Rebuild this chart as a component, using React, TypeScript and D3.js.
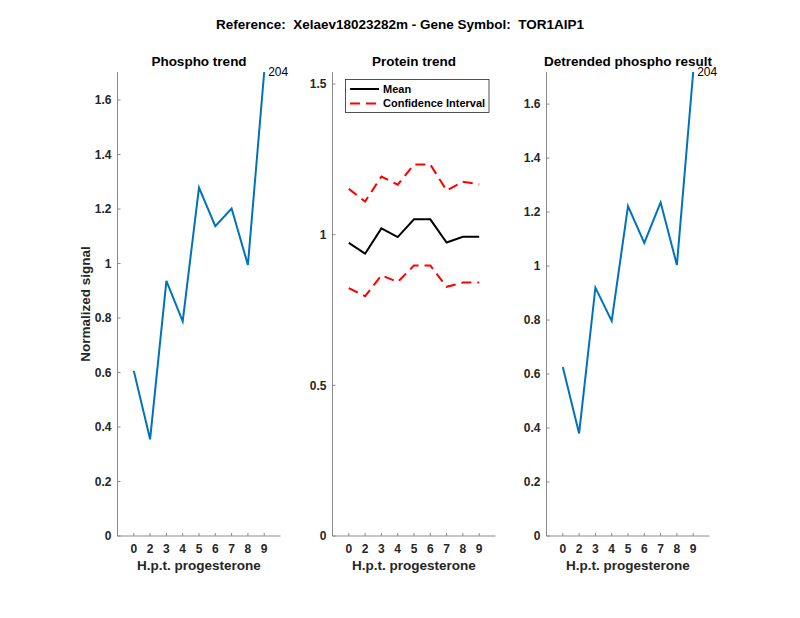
import React from "react";
import * as d3 from "d3";

const xLabels = ["0", "2", "3", "4", "5", "6", "7", "8", "9"];
const phospho = [0.606, 0.355, 0.936, 0.788, 1.279, 1.137, 1.202, 0.995, 1.703];
const proteinMean = [0.973, 0.937, 1.021, 0.992, 1.051, 1.051, 0.974, 0.993, 0.993];
const proteinUpper = [1.152, 1.11, 1.193, 1.166, 1.233, 1.233, 1.147, 1.176, 1.167];
const proteinLower = [0.823, 0.796, 0.865, 0.843, 0.898, 0.898, 0.827, 0.841, 0.841];
const detrended = [0.626, 0.38, 0.92, 0.797, 1.222, 1.086, 1.236, 1.004, 1.719];
const phosphoTicks = [0, 0.2, 0.4, 0.6, 0.8, 1, 1.2, 1.4, 1.6];
const proteinTicks = [0, 0.5, 1, 1.5];
const peptideLabel = "204";

const FONT = "'Liberation Sans', Arial, Helvetica, sans-serif";
const AXIS = "#8a8a8a";
const TXT = "#262626";
const BLUE = "#0072BD";
const DASH = "10,6";

type Series = { values: number[]; color: string; dash?: string };

function Panel(props: {
  left: number;
  title: string;
  yMax: number;
  yTicks: number[];
  series: Series[];
  endLabel?: string;
  yLabel?: string;
  legend?: boolean;
}) {
  const top = 72;
  const bottom = 536;
  const width = 163;
  const x = d3.scaleLinear().domain([0, 10]).range([props.left, props.left + width]);
  const y = d3.scaleLinear().domain([0, props.yMax]).range([bottom, top]);
  const line = d3
    .line<number>()
    .x((_, i) => x(i + 1))
    .y((v) => y(v));
  const first = props.series[0].values;
  const last = first[first.length - 1];
  return (
    <g>
      <text x={props.left + width / 2} y={65.5} textAnchor="middle" fontFamily={FONT} fontWeight="bold" fontSize={13.5} fill="#000">
        {props.title}
      </text>
      {props.series.map((s, k) => (
        <path key={k} d={line(s.values) || ""} fill="none" stroke={s.color} strokeWidth={2} strokeDasharray={s.dash} />
      ))}
      <line x1={props.left} x2={props.left} y1={top} y2={bottom} stroke={AXIS} strokeWidth={1} />
      <line x1={props.left} x2={props.left + width} y1={bottom} y2={bottom} stroke={AXIS} strokeWidth={1} />
      {props.yTicks.map((t) => (
        <g key={t}>
          <line x1={props.left} x2={props.left + 3} y1={y(t)} y2={y(t)} stroke={AXIS} />
          <text x={props.left - 6} y={y(t)} dy="0.35em" textAnchor="end" fontFamily={FONT} fontWeight="bold" fontSize={12} fill={TXT}>
            {String(t)}
          </text>
        </g>
      ))}
      {xLabels.map((l, i) => (
        <g key={l}>
          <line x1={x(i + 1)} x2={x(i + 1)} y1={bottom} y2={bottom - 3} stroke={AXIS} />
          <text x={x(i + 1)} y={552.5} textAnchor="middle" fontFamily={FONT} fontWeight="bold" fontSize={12} fill={TXT}>
            {l}
          </text>
        </g>
      ))}
      <text x={props.left + width / 2} y={570} textAnchor="middle" fontFamily={FONT} fontWeight="bold" fontSize={13.5} fill={TXT}>
        H.p.t. progesterone
      </text>
      {props.yLabel && (
        <text transform={`translate(${props.left - 28},${(top + bottom) / 2}) rotate(-90)`} textAnchor="middle" fontFamily={FONT} fontWeight="bold" fontSize={13.5} fill={TXT}>
          {props.yLabel}
        </text>
      )}
      {props.endLabel && (
        <text x={x(first.length) + 4} y={y(last)} dy="0.35em" fontFamily={FONT} fontSize={12} fill="#000">
          {props.endLabel}
        </text>
      )}
      {props.legend && (
        <g>
          <rect x={345.5} y={79.5} width={143.5} height={33} fill="#fff" stroke="#262626" strokeWidth={0.8} />
          <line x1={350} x2={379} y1={89} y2={89} stroke="#000" strokeWidth={2} />
          <text x={383} y={89} dy="0.35em" fontFamily={FONT} fontWeight="bold" fontSize={11} fill="#000">Mean</text>
          <line x1={350} x2={379} y1={103.5} y2={103.5} stroke="#ff0000" strokeWidth={2} strokeDasharray={DASH} />
          <text x={383} y={103.5} dy="0.35em" fontFamily={FONT} fontWeight="bold" fontSize={11} fill="#000">Confidence Interval</text>
        </g>
      )}
    </g>
  );
}

export default function App() {
  return (
    <svg width={800} height={618} style={{ display: "block", position: "absolute", left: 0, top: 0, background: "#fff" }}>
      <rect width={800} height={618} fill="#fff" />
      <text x={400} y={29} textAnchor="middle" fontFamily={FONT} fontWeight="bold" fontSize={13.5} fill="#000" style={{ whiteSpace: "pre" }}>
        {"Reference:  Xelaev18023282m - Gene Symbol:  TOR1AIP1"}
      </text>
      <Panel left={117.5} title="Phospho trend" yMax={d3.max(phospho) as number} yTicks={phosphoTicks} series={[{ values: phospho, color: BLUE }]} endLabel={peptideLabel} yLabel="Normalized signal" />
      <Panel
        left={332.5}
        title="Protein trend"
        yMax={1.54}
        yTicks={proteinTicks}
        series={[
          { values: proteinMean, color: "#000" },
          { values: proteinUpper, color: "#ff0000", dash: DASH },
          { values: proteinLower, color: "#ff0000", dash: DASH },
        ]}
        legend
      />
      <Panel left={546.5} title="Detrended phospho result" yMax={d3.max(detrended) as number} yTicks={phosphoTicks} series={[{ values: detrended, color: BLUE }]} endLabel={peptideLabel} />
    </svg>
  );
}
